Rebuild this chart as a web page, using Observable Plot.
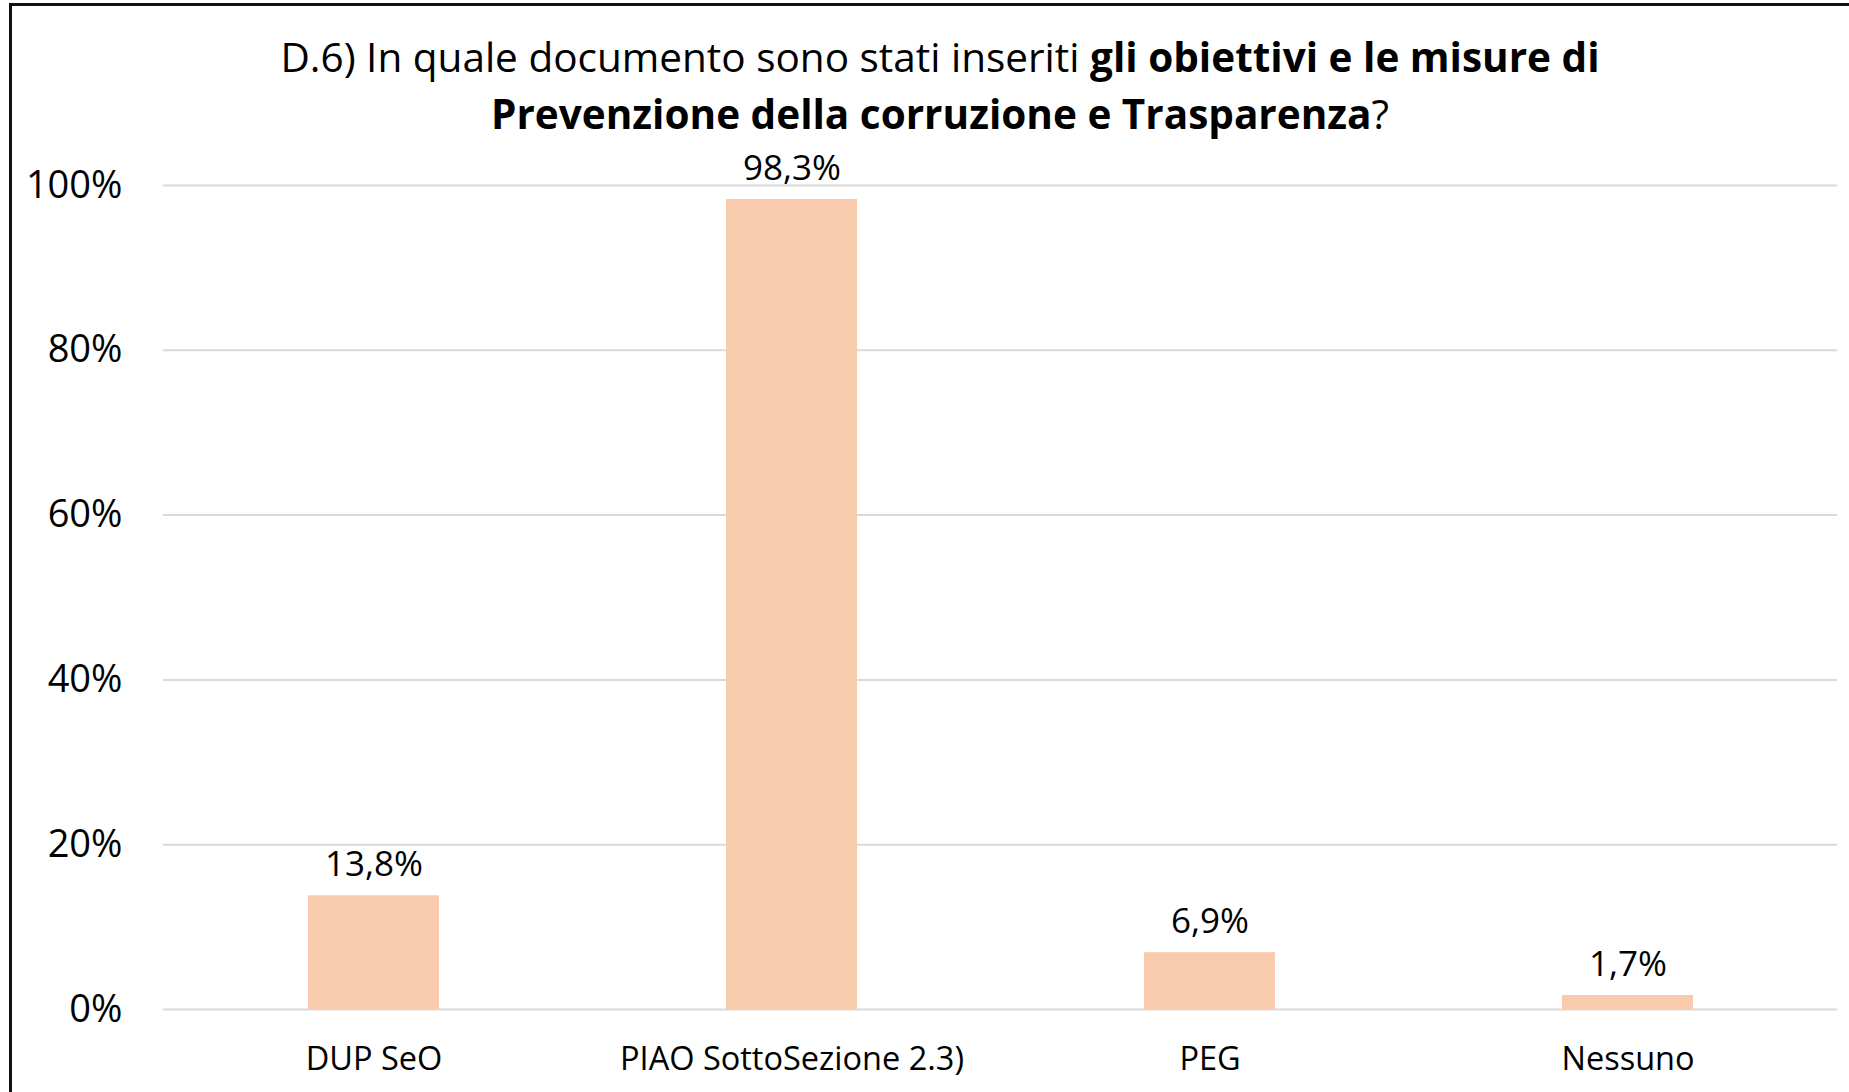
<!DOCTYPE html>
<html><head><meta charset="utf-8">
<script src="https://cdn.jsdelivr.net/npm/d3@7"></script>
<script src="https://cdn.jsdelivr.net/npm/@observablehq/plot@0.6"></script>
<style>
body{margin:0;background:#fff;width:1849px;height:1092px;overflow:hidden;position:relative;font-family:"Open Sans",sans-serif;}
#frameTop{position:absolute;left:9px;top:3px;width:1840px;height:3px;background:#111;}
#frameLeft{position:absolute;left:9px;top:3px;width:3px;height:1089px;background:#111;}
#title{position:absolute;left:40px;width:1800px;top:6px;padding-top:22px;text-align:center;font-size:40.5px;line-height:57px;color:#000;}
#title b{font-weight:700;}
#chart{position:absolute;left:0;top:128px;}
</style></head><body>
<div id="frameTop"></div><div id="frameLeft"></div>
<div id="title">D.6) In quale documento sono stati inseriti <b>gli obiettivi e le misure di</b><br><b>Prevenzione della corruzione e Trasparenza</b>?</div>
<div id="chart"></div>
<script>
const categories = ["DUP SeO", "PIAO SottoSezione 2.3)", "PEG", "Nessuno"];
const values = [13.8, 98.3, 6.9, 1.7];
const yTicks = [0, 20, 40, 60, 80, 100];

const data = categories.map((c, i) => ({category: c, value: values[i]}));
const fmt = v => v.toFixed(1).replace(".", ",") + "%";

const chart = Plot.plot({
  width: 1849,
  height: 964,
  marginTop: 57,
  marginBottom: 83,
  marginLeft: 163,
  marginRight: 12,
  style: {fontFamily: '"Open Sans", sans-serif', background: "transparent", color: "#000"},
  x: {domain: categories, paddingInner: 0.687, paddingOuter: 0.3435, label: null},
  y: {domain: [0, 100], label: null},
  marks: [
    Plot.gridY(yTicks, {stroke: "#D9D9D9", strokeOpacity: 1, strokeWidth: 2}),
    Plot.axisY(yTicks, {tickSize: 0, tickPadding: 41, tickFormat: d => d + "%", fontSize: 38, label: null}),
    Plot.axisX({tickSize: 0, tickPadding: 37, fontSize: 32.5, label: null}),
    Plot.barY(data, {x: "category", y: "value", fill: "#F8CBAD"}),
    Plot.text(data, {x: "category", y: "value", text: d => fmt(d.value), dy: -31, lineAnchor: "middle", fontSize: 35, fill: "#000"})
  ]
});
document.getElementById("chart").appendChild(chart);
</script>
</body></html>
